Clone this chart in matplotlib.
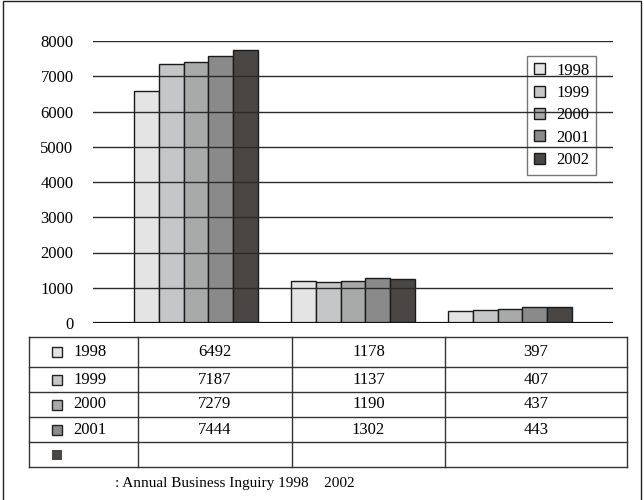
import matplotlib
matplotlib.use("Agg")
import matplotlib.pyplot as plt
from matplotlib.patches import Rectangle
import numpy as np

plt.rcParams['font.family'] = ['Liberation Serif', 'DejaVu Serif']

# 데이터
years = ['1998', '1999', '2000', '2001', '2002']
n_groups = 3
# 막대 높이
bar_1998 = [6595, 1193, 341]
bar_1999 = [7348, 1153, 369]
bar_2000 = [7415, 1193, 386]
bar_2001 = [7566, 1278, 443]
bar_2002 = [7745, 1250, 463]
bar_values = [bar_1998, bar_1999, bar_2000, bar_2001, bar_2002]
# 표에 적힌 값
table_1998 = ['6492', '1178', '397']
table_1999 = ['7187', '1137', '407']
table_2000 = ['7279', '1190', '437']
table_2001 = ['7444', '1302', '443']
table_2002 = ['', '', '']
table_rows = [table_1998, table_1999, table_2000, table_2001, table_2002]
row_labels = ['1998', '1999', '2000', '2001', '']
yticks = [0, 1000, 2000, 3000, 4000, 5000, 6000, 7000, 8000]
caption = ': Annual Business Inguiry 1998    2002'

colors = ['#e4e4e4', '#c5c6c7', '#a8aaa9', '#8a8a8a', '#4a4644']

W, H = 644, 500
fig = plt.figure(figsize=(W / 100, H / 100), dpi=100)

# 바깥 테두리
fig.patches.append(Rectangle((3 / W, -0.05), 638 / W, 1.05 - 1.5 / H,
                             transform=fig.transFigure, fill=False,
                             edgecolor='#222222', linewidth=1.0))

ax = fig.add_axes([93 / W, 1 - 323 / H, 520 / W, 282 / H])
x = np.arange(n_groups)
bw = 0.157
for i, vals in enumerate(bar_values):
    ax.bar(x + (i - 2) * bw, vals, width=bw, color=colors[i],
           edgecolor='#1a1a1a', linewidth=1.0, label=years[i], zorder=2)

for t in yticks[1:]:
    ax.axhline(t, color='#2a2a2a', linewidth=1.0, zorder=3)
ax.axhline(0, color='#111111', linewidth=1.6, zorder=4)

ax.set_xlim(-0.656, 2.656)
ax.set_ylim(0, 8000)
ax.set_yticks(yticks)
ax.set_yticklabels([str(t) for t in yticks], fontsize=12)
ax.tick_params(axis='y', length=0, pad=14)
ax.set_xticks([])
for s in ax.spines.values():
    s.set_visible(False)

leg = ax.legend(loc='upper left', bbox_to_anchor=(0.835, 0.947), fontsize=12,
                frameon=True, fancybox=False, handlelength=0.65, handleheight=0.65,
                handletextpad=0.7, labelspacing=0.38, borderpad=0.4,
                borderaxespad=0)
leg.get_frame().set_facecolor('none')
leg.get_frame().set_edgecolor('#555555')
leg.get_frame().set_linewidth(1.0)
leg.set_zorder(2.5)

# 표
axt = fig.add_axes([0, 0, 1, 1])
axt.set_xlim(0, W)
axt.set_ylim(H, 0)
axt.axis('off')
col_x = [29, 138, 292, 445, 627]
row_y = [337, 367, 392, 417, 442, 467]
for yy in row_y:
    axt.plot([col_x[0], col_x[-1]], [yy, yy], color='#333333', linewidth=1.0)
for xx in col_x:
    axt.plot([xx, xx], [row_y[0], row_y[-1]], color='#333333', linewidth=1.0)

for r in range(len(table_rows)):
    yc = (row_y[r] + row_y[r + 1]) / 2
    if r < 4:
        axt.add_patch(Rectangle((52.5, yc - 5), 10, 10, facecolor=colors[r],
                                edgecolor='#222222', linewidth=1.0))
    else:
        axt.add_patch(Rectangle((52.5, yc - 5), 10, 10, facecolor=colors[r],
                                edgecolor='none'))
    axt.text(73, yc, row_labels[r], fontsize=12, ha='left', va='center')
    for c in range(n_groups):
        xc = (col_x[c + 1] + col_x[c + 2]) / 2
        axt.text(xc, yc, table_rows[r][c], fontsize=12, ha='center', va='center')

axt.text(115, 484, caption, fontsize=11, ha='left', va='center')

fig.savefig('out.png', dpi=100)
